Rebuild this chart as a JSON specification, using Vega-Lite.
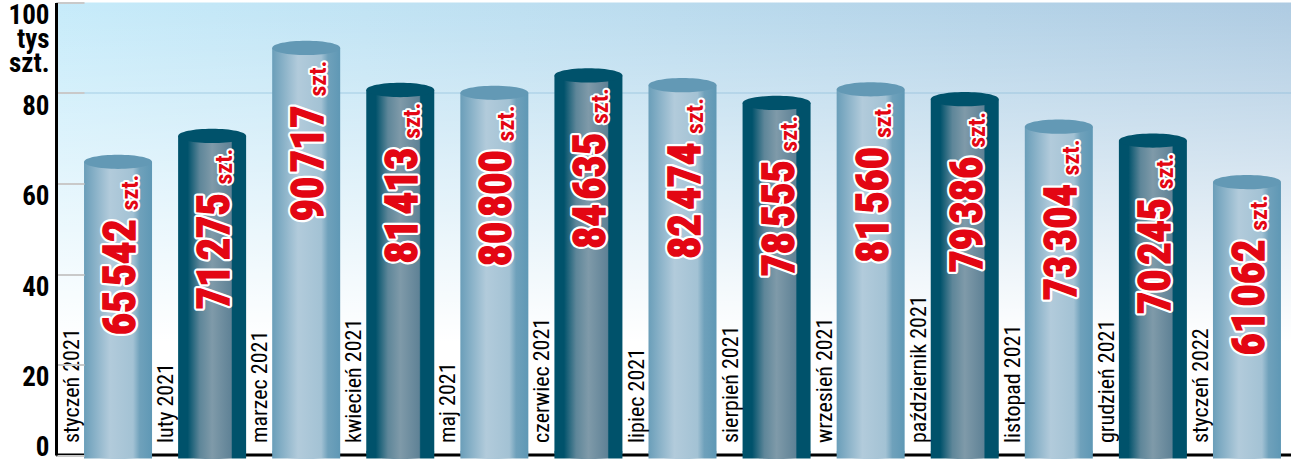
{
  "$schema": "https://vega.github.io/schema/vega-lite/v6.json",
  "autosize": {"type": "none"},
  "padding": {"left": 56, "top": 2.5, "right": 3, "bottom": 15},
  "width": 1235,
  "height": 452.5,
  "background": "#ffffff",
  "config": {"view": {"stroke": null}},
  "data": {
    "values": [
      {"miesiac": "styczeń 2021", "sztuk": 65542, "napis": "65\u200a542", "ciemny": false},
      {"miesiac": "luty 2021", "sztuk": 71275, "napis": "71\u200a275", "ciemny": true},
      {"miesiac": "marzec 2021", "sztuk": 90717, "napis": "90\u200a717", "ciemny": false},
      {"miesiac": "kwiecień 2021", "sztuk": 81413, "napis": "81\u200a413", "ciemny": true},
      {"miesiac": "maj 2021", "sztuk": 80800, "napis": "80\u200a800", "ciemny": false},
      {"miesiac": "czerwiec 2021", "sztuk": 84635, "napis": "84\u200a635", "ciemny": true},
      {"miesiac": "lipiec 2021", "sztuk": 82474, "napis": "82\u200a474", "ciemny": false},
      {"miesiac": "sierpień 2021", "sztuk": 78555, "napis": "78\u200a555", "ciemny": true},
      {"miesiac": "wrzesień 2021", "sztuk": 81560, "napis": "81\u200a560", "ciemny": false},
      {"miesiac": "październik 2021", "sztuk": 79386, "napis": "79\u200a386", "ciemny": true},
      {"miesiac": "listopad 2021", "sztuk": 73304, "napis": "73\u200a304", "ciemny": false},
      {"miesiac": "grudzień 2021", "sztuk": 70245, "napis": "70\u200a245", "ciemny": true},
      {"miesiac": "styczeń 2022", "sztuk": 61062, "napis": "61\u200a062", "ciemny": false}
    ]
  },
  "layer": [
    {
      "data": {"values": [{}]},
      "mark": {"type": "rect", "color": {"gradient": "linear", "x1": 0, "y1": 0, "x2": 1, "y2": 0, "stops": [{"offset": 0, "color": "#c6ebfa"}, {"offset": 1, "color": "#aecbe2"}]}},
      "encoding": {
        "y": {"datum": 0, "type": "quantitative", "scale": {"domain": [0, 100000], "nice": false}, "axis": {
          "values": [0, 20000, 40000, 60000, 80000, 100000],
          "title": null,
          "zindex": 1,
          "domainColor": "#000000",
          "domainWidth": 3,
          "tickColor": "#c9c9c9",
          "tickWidth": 2,
          "tickSize": -28,
          "grid": false,
          "labelPadding": 35,
          "labelFont": "Roboto Condensed",
          "labelFontWeight": "bold",
          "labelFontSize": 27,
          "labelColor": "#000000",
          "labelLineHeight": 24,
          "labelBaseline": {"condition": {"test": "datum.value == 0", "value": "alphabetic"}, "value": "top"},
          "labelExpr": "datum.value == 100000 ? ['100', 'tys', 'szt.'] : datum.value / 1000"
        }},
        "y2": {"datum": 100000}
      }
    },
    {
      "data": {"values": [{}]},
      "mark": {"type": "rect", "color": {"gradient": "linear", "x1": 0, "y1": 0, "x2": 0, "y2": 1, "stops": [{"offset": 0, "color": "rgba(255,255,255,0)"}, {"offset": 0.75, "color": "#ffffff"}, {"offset": 1, "color": "#ffffff"}]}},
      "encoding": {
        "y": {"datum": 0, "type": "quantitative"},
        "y2": {"datum": 100000}
      }
    },
    {
      "data": {"values": [{}]},
      "mark": {"type": "rule", "color": "#7db4d6", "strokeWidth": 1, "opacity": 0.55},
      "encoding": {"y": {"datum": 80000, "type": "quantitative"}}
    },
    {
      "data": {"values": [{}]},
      "mark": {"type": "rule", "color": "#000000", "strokeWidth": 3},
      "encoding": {"y": {"datum": 0, "type": "quantitative"}}
    },
    {
      "transform": [{"filter": "!datum.ciemny"}],
      "mark": {"type": "point", "filled": true, "opacity": 1, "size": 4624, "shape": "M-1,-0.09A1,0.21,0,1,0,1,-0.09A1,0.21,0,1,0,-1,-0.09Z", "color": {"gradient": "linear", "x1": 0, "y1": 0, "x2": 1, "y2": 0, "stops": [{"offset": 0, "color": "#6a9eb9"}, {"offset": 0.38, "color": "#b2cbdb"}, {"offset": 0.72, "color": "#a3c2d4"}, {"offset": 0.82, "color": "#6fa1bb"}, {"offset": 1, "color": "#5f98b5"}]}},
      "encoding": {
        "x": {"field": "miesiac", "type": "nominal", "axis": null, "scale": {"type": "band", "paddingInner": 0, "paddingOuter": 0, "range": [15, 1238], "domain": ["styczeń 2021", "luty 2021", "marzec 2021", "kwiecień 2021", "maj 2021", "czerwiec 2021", "lipiec 2021", "sierpień 2021", "wrzesień 2021", "październik 2021", "listopad 2021", "grudzień 2021", "styczeń 2022"]}},
        "y": {"datum": 0, "type": "quantitative"}
      }
    },
    {
      "transform": [{"filter": "datum.ciemny"}],
      "mark": {"type": "point", "filled": true, "opacity": 1, "size": 4624, "shape": "M-1,-0.09A1,0.21,0,1,0,1,-0.09A1,0.21,0,1,0,-1,-0.09Z", "color": {"gradient": "linear", "x1": 0, "y1": 0, "x2": 1, "y2": 0, "stops": [{"offset": 0, "color": "#00526b"}, {"offset": 0.14, "color": "#00526b"}, {"offset": 0.32, "color": "#5e8699"}, {"offset": 0.5, "color": "#7f9aa9"}, {"offset": 0.78, "color": "#5f8296"}, {"offset": 0.8, "color": "#00526b"}, {"offset": 1, "color": "#00526b"}]}},
      "encoding": {
        "x": {"field": "miesiac", "type": "nominal"},
        "y": {"datum": 0, "type": "quantitative"}
      }
    },
    {
      "transform": [{"filter": "!datum.ciemny"}],
      "mark": {"type": "bar", "width": 68, "yOffset": 3.5, "y2Offset": -3, "color": {"gradient": "linear", "x1": 0, "y1": 0, "x2": 1, "y2": 0, "stops": [{"offset": 0, "color": "#6a9eb9"}, {"offset": 0.38, "color": "#b2cbdb"}, {"offset": 0.72, "color": "#a3c2d4"}, {"offset": 0.82, "color": "#6fa1bb"}, {"offset": 1, "color": "#5f98b5"}]}},
      "encoding": {
        "x": {"field": "miesiac", "type": "nominal"},
        "y": {"field": "sztuk", "type": "quantitative"}
      }
    },
    {
      "transform": [{"filter": "datum.ciemny"}],
      "mark": {"type": "bar", "width": 68, "yOffset": 3.5, "y2Offset": -3, "color": {"gradient": "linear", "x1": 0, "y1": 0, "x2": 1, "y2": 0, "stops": [{"offset": 0, "color": "#00526b"}, {"offset": 0.14, "color": "#00526b"}, {"offset": 0.32, "color": "#5e8699"}, {"offset": 0.5, "color": "#7f9aa9"}, {"offset": 0.78, "color": "#5f8296"}, {"offset": 0.8, "color": "#00526b"}, {"offset": 1, "color": "#00526b"}]}},
      "encoding": {
        "x": {"field": "miesiac", "type": "nominal"},
        "y": {"field": "sztuk", "type": "quantitative"}
      }
    },
    {
      "mark": {"type": "point", "filled": true, "opacity": 1, "size": 4624, "shape": "M-1,0.1A1,0.21,0,1,0,1,0.1A1,0.21,0,1,0,-1,0.1Z"},
      "encoding": {
        "x": {"field": "miesiac", "type": "nominal"},
        "y": {"field": "sztuk", "type": "quantitative"},
        "color": {"field": "ciemny", "type": "nominal", "legend": null, "scale": {"domain": [false, true], "range": ["#6399b5", "#00526b"]}}
      }
    },
    {
      "mark": {"type": "text", "angle": 270, "align": "left", "baseline": "middle", "dx": 12, "dy": -46, "font": "Roboto Condensed", "fontSize": 22, "color": "#000000"},
      "encoding": {
        "x": {"field": "miesiac", "type": "nominal"},
        "y": {"datum": 0, "type": "quantitative"},
        "text": {"field": "miesiac"}
      }
    },
    {
      "mark": {"type": "text", "angle": 270, "align": "right", "baseline": "alphabetic", "dx": -61, "dy": 17, "font": "Roboto Condensed", "fontWeight": "bold", "fontSize": 44, "stroke": "#ffffff", "strokeWidth": 6, "strokeJoin": "round", "fill": "#ffffff"},
      "encoding": {
        "x": {"field": "miesiac", "type": "nominal"},
        "y": {"field": "sztuk", "type": "quantitative"},
        "text": {"field": "napis"}
      }
    },
    {
      "mark": {"type": "text", "angle": 270, "align": "right", "baseline": "alphabetic", "dx": -61, "dy": 17, "font": "Roboto Condensed", "fontWeight": "bold", "fontSize": 44, "stroke": "#e30613", "strokeWidth": 1.5, "fill": "#e30613"},
      "encoding": {
        "x": {"field": "miesiac", "type": "nominal"},
        "y": {"field": "sztuk", "type": "quantitative"},
        "text": {"field": "napis"}
      }
    },
    {
      "mark": {"type": "text", "angle": 270, "align": "right", "baseline": "alphabetic", "dx": -16, "dy": 20, "font": "Roboto Condensed", "fontWeight": "bold", "fontSize": 24, "stroke": "#ffffff", "strokeWidth": 4, "strokeJoin": "round", "fill": "#ffffff"},
      "encoding": {
        "x": {"field": "miesiac", "type": "nominal"},
        "y": {"field": "sztuk", "type": "quantitative"},
        "text": {"value": "szt."}
      }
    },
    {
      "mark": {"type": "text", "angle": 270, "align": "right", "baseline": "alphabetic", "dx": -16, "dy": 20, "font": "Roboto Condensed", "fontWeight": "bold", "fontSize": 24, "color": "#e30613"},
      "encoding": {
        "x": {"field": "miesiac", "type": "nominal"},
        "y": {"field": "sztuk", "type": "quantitative"},
        "text": {"value": "szt."}
      }
    }
  ]
}
